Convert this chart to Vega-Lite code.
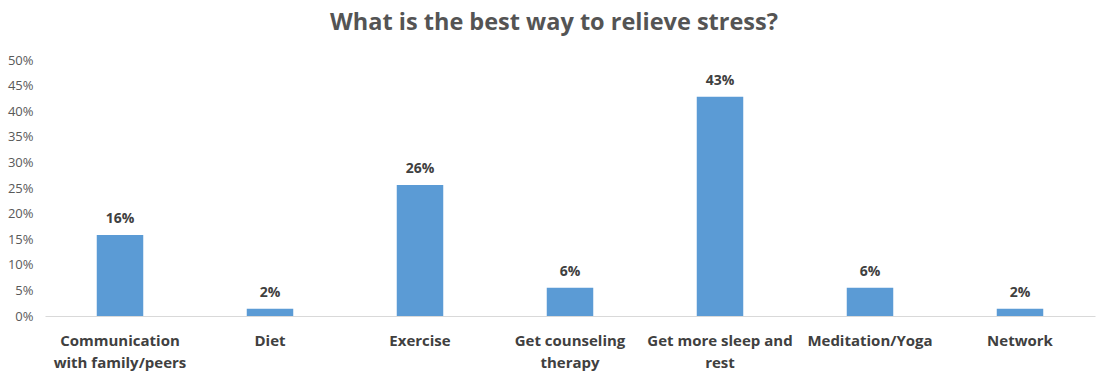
{
  "$schema": "https://vega.github.io/schema/vega-lite/v6.json",
  "width": 1050,
  "height": 256,
  "autosize": {"type": "none"},
  "padding": {"left": 45, "top": 60, "right": 4, "bottom": 64},
  "background": "white",
  "config": {"view": {"stroke": null}, "font": "Open Sans"},
  "title": {
    "text": "What is the best way to relieve stress?",
    "fontSize": 23.5,
    "fontWeight": "bold",
    "color": "#545454",
    "font": "Open Sans",
    "anchor": "middle",
    "dx": -16,
    "offset": 20
  },
  "data": {
    "values": [
      {"option": "Communication with family/peers", "share": 0.158, "label": "16%"},
      {"option": "Diet", "share": 0.014, "label": "2%"},
      {"option": "Exercise", "share": 0.256, "label": "26%"},
      {"option": "Get counseling therapy", "share": 0.055, "label": "6%"},
      {"option": "Get more sleep and rest", "share": 0.428, "label": "43%"},
      {"option": "Meditation/Yoga", "share": 0.055, "label": "6%"},
      {"option": "Network", "share": 0.014, "label": "2%"}
    ]
  },
  "encoding": {
    "x": {
      "field": "option",
      "type": "nominal",
      "sort": null,
      "scale": {"paddingInner": 0.69, "paddingOuter": 0.345},
      "axis": {
        "title": null,
        "labelAngle": 0,
        "labelFontSize": 15,
        "labelFontWeight": "bold",
        "labelColor": "#404040",
        "labelPadding": 17,
        "labelLineHeight": 22,
        "labelBaseline": "top",
        "labelLimit": 200,
        "ticks": false,
        "domainColor": "#d9d9d9",
        "domainWidth": 1,
        "labelExpr": "datum.value == 'Communication with family/peers' ? ['Communication', 'with family/peers'] : datum.value == 'Get counseling therapy' ? ['Get counseling', 'therapy'] : datum.value == 'Get more sleep and rest' ? ['Get more sleep and', 'rest'] : datum.value"
      }
    },
    "y": {
      "field": "share",
      "type": "quantitative",
      "scale": {"domain": [0, 0.5], "nice": false},
      "axis": {
        "title": null,
        "format": ".0%",
        "values": [0, 0.05, 0.1, 0.15, 0.2, 0.25, 0.3, 0.35, 0.4, 0.45, 0.5],
        "labelFontSize": 13,
        "labelColor": "#595959",
        "labelPadding": 12,
        "ticks": false,
        "domain": false,
        "grid": false
      }
    }
  },
  "layer": [
    {"mark": {"type": "bar", "color": "#5B9BD5"}},
    {
      "mark": {"type": "text", "baseline": "bottom", "dy": -9, "fontSize": 14, "fontWeight": "bold", "color": "#404040"},
      "encoding": {"text": {"field": "label"}}
    }
  ]
}
